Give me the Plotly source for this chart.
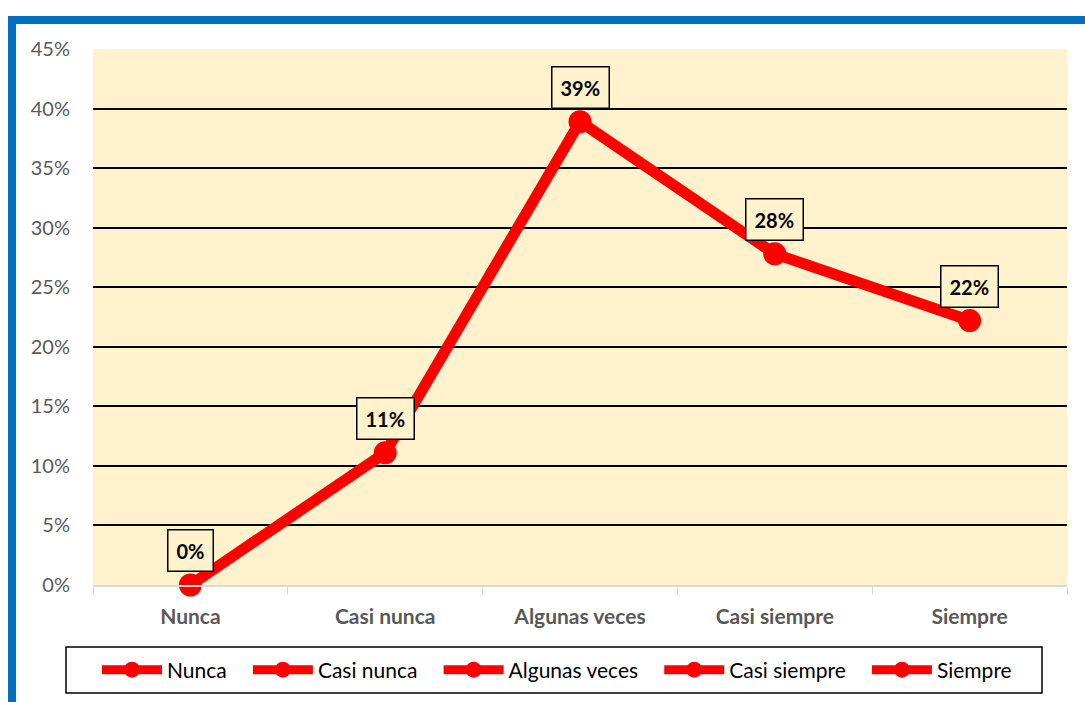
import plotly.graph_objects as go

categorias = ["Nunca", "Casi nunca", "Algunas veces", "Casi siempre", "Siempre"]
porcentajes = [0.0, 0.111, 0.389, 0.278, 0.222]
ticks_y = [0, 0.05, 0.10, 0.15, 0.20, 0.25, 0.30, 0.35, 0.40, 0.45]
etiquetas_y = ["0%", "5%", "10%", "15%", "20%", "25%", "30%", "35%", "40%", "45%"]

ROJO = "#FF0000"
FUENTE = "Lato, 'Open Sans', sans-serif"
ESPACIO = "\u00a0\u00a0\u00a0"

fig = go.Figure()

# Serie principal
fig.add_trace(go.Scatter(
    x=categorias, y=porcentajes, mode="lines+markers",
    line=dict(color=ROJO, width=11),
    marker=dict(color=ROJO, size=23),
    cliponaxis=False, showlegend=False, hoverinfo="skip",
))

# Entradas de la leyenda (una por categoría)
for c in categorias:
    fig.add_trace(go.Scatter(
        x=[None], y=[None], mode="lines+markers", name=c + ESPACIO,
        line=dict(color=ROJO, width=9),
        marker=dict(color=ROJO, size=18),
        showlegend=True,
    ))

# Etiquetas de datos en recuadro
for c, v in zip(categorias, porcentajes):
    fig.add_annotation(
        x=c, y=v, xref="x", yref="y",
        text=f"<b>{v:.0%}</b>", showarrow=False,
        yanchor="bottom", yshift=13,
        font=dict(family=FUENTE, size=20, color="black"),
        bgcolor="#FFF2CC", bordercolor="black", borderwidth=1.5, borderpad=8,
    )

# Conversión de píxeles a coordenadas de papel
L, T, PW, PH = 93, 49, 974, 536
def px_x(p):
    return (p - L) / PW
def px_y(p):
    return (T + PH - p) / PH

# Marco azul del gráfico
fig.add_shape(
    type="rect", xref="paper", yref="paper",
    x0=px_x(12), x1=px_x(1120), y0=px_y(20), y1=px_y(740),
    line=dict(color="#0070C0", width=8), fillcolor="rgba(0,0,0,0)", layer="above",
)
# Recuadro de la leyenda
fig.add_shape(
    type="rect", xref="paper", yref="paper",
    x0=px_x(66), x1=px_x(1042), y0=px_y(647), y1=px_y(693),
    line=dict(color="black", width=1.5), fillcolor="rgba(0,0,0,0)", layer="above",
)

fig.update_layout(
    width=1085, height=702,
    margin=dict(l=L, r=1085 - L - PW, t=T, b=702 - T - PH),
    paper_bgcolor="white", plot_bgcolor="#FFF2CC",
    font=dict(family=FUENTE),
    showlegend=True,
    legend=dict(
        orientation="h", x=px_x(565), xanchor="center", y=px_y(670), yanchor="middle",
        borderwidth=0, bgcolor="rgba(0,0,0,0)",
        font=dict(family=FUENTE, size=21, color="black"),
        itemwidth=60, tracegroupgap=0,
    ),
    xaxis=dict(
        type="category", range=[-0.5, 4.5], tickson="boundaries", ticks="outside", ticklen=7,
        tickcolor="#D9D9D9", showline=True, linecolor="#D9D9D9", linewidth=1.5,
        showgrid=False, tickfont=dict(family=FUENTE, size=21, color="#595959", weight="bold"),
        ticklabelstandoff=12,
    ),
    yaxis=dict(
        range=[0, 0.45], tickvals=ticks_y, ticktext=etiquetas_y,
        showgrid=True, gridcolor="black", gridwidth=1.5,
        zeroline=True, zerolinecolor="#D9D9D9", zerolinewidth=1.5,
        showline=False, ticks="",
        tickfont=dict(family=FUENTE, size=20, color="#595959"),
        ticklabelstandoff=22,
    ),
)

fig.write_html("out.html")
